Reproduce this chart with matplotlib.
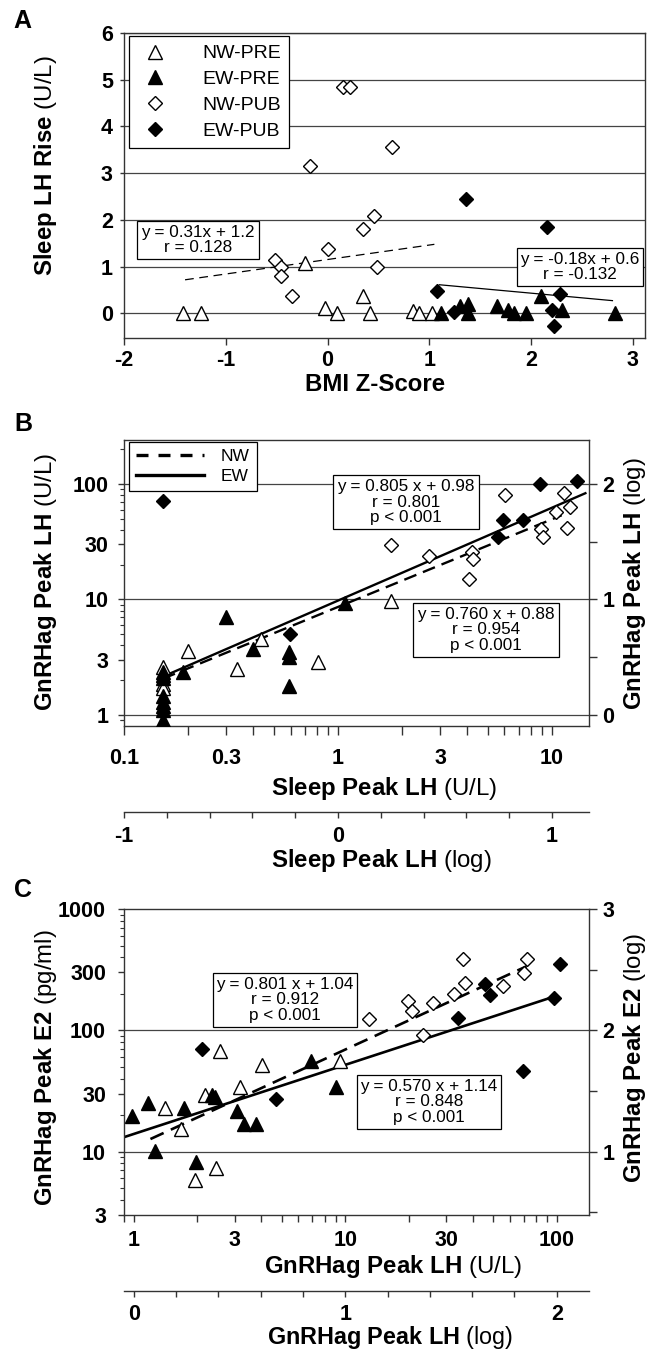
import numpy as np
import matplotlib
matplotlib.use('Agg')
import matplotlib.pyplot as plt
from matplotlib.lines import Line2D
from matplotlib.ticker import NullFormatter

# ---------------- data ----------------
# Panel A: BMI Z-score vs Sleep LH rise (U/L)
a_nw_pre_x = [-1.42, -1.24, -0.22, -0.02, 0.09, 0.35, 0.42, 0.84, 0.90, 1.03]
a_nw_pre_y = [0.0, 0.0, 1.07, 0.12, 0.0, 0.36, 0.0, 0.05, 0.0, 0.0]
a_ew_pre_x = [1.12, 1.30, 1.38, 1.38, 1.67, 1.77, 1.83, 1.95, 2.10, 2.30, 2.83]
a_ew_pre_y = [0.0, 0.15, 0.20, 0.0, 0.16, 0.07, 0.0, 0.0, 0.36, 0.07, 0.0]
a_nw_pub_x = [0.15, 0.22, -0.17, 0.63, 0.46, 0.35, 0.00, -0.52, -0.46, -0.46, -0.35, 0.49]
a_nw_pub_y = [4.84, 4.84, 3.16, 3.56, 2.09, 1.80, 1.37, 1.14, 1.00, 0.80, 0.36, 1.00]
a_ew_pub_x = [1.36, 2.16, 1.08, 2.28, 2.21, 2.23, 1.24]
a_ew_pub_y = [2.44, 1.84, 0.48, 0.41, 0.07, -0.27, 0.02]
a_fit_nw = (0.31, 1.15, -1.40, 1.05)     # slope, intercept, x start, x end
a_fit_ew = (-0.20, 0.83, 1.10, 2.80)
a_xticks = [-2, -1, 0, 1, 2, 3]
a_yticks = [0, 1, 2, 3, 4, 5, 6]
a_box_nw = "y = 0.31x + 1.2\nr = 0.128"
a_box_ew = "y = -0.18x + 0.6\nr = -0.132"
legend_a = ["NW-PRE", "EW-PRE", "NW-PUB", "EW-PUB"]

# Panel B: Sleep peak LH vs GnRHag peak LH (U/L)
b_nw_pre_x = [0.152, 0.152, 0.152, 0.20, 0.337, 0.436, 0.81, 1.77]
b_nw_pre_y = [2.58, 1.85, 1.70, 3.55, 2.48, 4.5, 2.85, 9.6]
b_ew_pre_x = [0.152, 0.152, 0.152, 0.152, 0.152, 0.152, 0.152, 0.152, 0.189, 0.30, 0.40, 0.59, 0.59, 0.59, 1.08]
b_ew_pre_y = [2.35, 2.20, 2.10, 1.45, 1.30, 1.20, 1.10, 0.91, 2.34, 7.0, 3.7, 3.47, 3.15, 1.77, 9.25]
b_nw_pub_x = [1.77, 2.66, 4.23, 4.27, 4.10, 6.03, 8.9, 9.1, 10.5, 11.4, 12.1, 11.7]
b_nw_pub_y = [29.8, 24.0, 26.0, 22.2, 14.9, 80.0, 40.8, 35.0, 57.5, 84.0, 63.6, 41.8]
b_ew_pub_x = [0.152, 0.597, 5.6, 5.9, 7.3, 8.8, 13.1]
b_ew_pub_y = [71.0, 5.0, 35.0, 49.0, 49.0, 100.0, 107.0]
b_fit_nw = (0.760, 0.935, 0.152, 11.1)   # log-log slope, intercept, x start, x end
b_fit_ew = (0.805, 0.990, 0.152, 14.5)
b_box_ew = "y = 0.805 x + 0.98\nr = 0.801\np < 0.001"
b_box_nw = "y = 0.760 x + 0.88\nr = 0.954\np < 0.001"
b_xticks = [0.1, 0.3, 1, 3, 10]
b_xtick_labels = ["0.1", "0.3", "1", "3", "10"]
b_yticks = [1, 3, 10, 30, 100]
b_ytick_labels = ["1", "3", "10", "30", "100"]
b_right_ticks = [0, 1, 2]
b_grid = [1, 10, 100]
legend_b = ["NW", "EW"]

# Panel C: GnRHag peak LH vs GnRHag peak E2
c_nw_pre_x = [1.41, 1.67, 1.95, 2.17, 2.45, 2.56, 3.18, 4.03, 9.45]
c_nw_pre_y = [22.9, 15.3, 5.8, 29.4, 7.3, 67.0, 34.4, 52.0, 56.0]
c_ew_pre_x = [0.98, 1.17, 1.26, 1.72, 1.97, 2.34, 2.42, 3.07, 3.33, 3.79, 6.9, 9.05]
c_ew_pre_y = [19.5, 25.0, 10.2, 22.9, 8.26, 29.4, 28.2, 21.8, 16.9, 16.9, 56.0, 34.4]
c_nw_pub_x = [13.0, 19.7, 20.6, 23.2, 26.0, 32.7, 36.2, 36.8, 55.9, 70.0, 72.6]
c_nw_pub_y = [124, 174, 144, 91, 168, 201, 384, 246, 234, 295, 384]
c_ew_pub_x = [2.1, 4.69, 34.3, 46.0, 48.3, 69.6, 97.0, 103.6]
c_ew_pub_y = [70, 27.1, 127, 239, 197, 45.8, 185, 355]
c_fit_nw = (0.801, 1.040, 1.2, 72.0)
c_fit_ew = (0.570, 1.145, 0.90, 97.0)
c_box_nw = "y = 0.801 x + 1.04\nr = 0.912\np < 0.001"
c_box_ew = "y = 0.570 x + 1.14\nr = 0.848\np < 0.001"
c_xticks = [1, 3, 10, 30, 100]
c_xtick_labels = ["1", "3", "10", "30", "100"]
c_yticks = [3, 10, 30, 100, 300, 1000]
c_ytick_labels = ["3", "10", "30", "100", "300", "1000"]
c_right_ticks = [1, 2, 3]
c_grid = [10, 100]

# ---------------- style ----------------
FONT = 'Liberation Sans'
plt.rcParams['font.family'] = [FONT, 'DejaVu Sans']
plt.rcParams['mathtext.fontset'] = 'custom'
plt.rcParams['mathtext.rm'] = FONT
plt.rcParams['mathtext.bf'] = FONT + ':bold'
plt.rcParams['mathtext.it'] = FONT + ':italic'

W, H = 649, 1352
fig = plt.figure(figsize=(W / 100, H / 100), dpi=100)

TICK_FS = 15.5
LABEL_FS = 17.3
BOX_FS = 12.3
SPINE_C = '#333333'
GRID_C = '#444444'


def fx(x):
    return x / W


def fy(y):
    return 1 - y / H


def add_ax(left, top, right, bottom):
    return fig.add_axes([left / W, 1 - bottom / H, (right - left) / W, (bottom - top) / H])


def frame(ax):
    for s in ax.spines.values():
        s.set_color(SPINE_C)
        s.set_linewidth(1.0)


STYLES = {
    'NW-PRE': dict(marker='^', mfc='white', ms=10.3),
    'EW-PRE': dict(marker='^', mfc='black', ms=10.3),
    'NW-PUB': dict(marker='D', mfc='white', ms=7.3),
    'EW-PUB': dict(marker='D', mfc='black', ms=7.3),
}


def scatter(ax, x, y, kind):
    ax.plot(x, y, ls='none', mec='black', mew=1.0, zorder=3, **STYLES[kind])


def fit_lin(ax, fit, **kw):
    m, b, x0, x1 = fit
    xs = np.linspace(x0, x1, 50)
    ax.plot(xs, m * xs + b, color='black', zorder=2, **kw)


def fit_log(ax, fit, **kw):
    m, b, x0, x1 = fit
    xs = np.logspace(np.log10(x0), np.log10(x1), 60)
    ax.plot(xs, 10 ** (m * np.log10(xs) + b), color='black', zorder=2, solid_capstyle='butt', **kw)


def box(ax, cx, cy, s):
    ax.text(fx(cx), fy(cy), s, transform=fig.transFigure, ha='center', va='center',
            multialignment='center', fontsize=BOX_FS, linespacing=1.05, zorder=6,
            bbox=dict(boxstyle='square,pad=0.22', fc='white', ec='black', lw=0.9))


def log_minor(lo, hi):
    out = []
    for dec in range(-2, 4):
        for k in range(2, 10):
            v = k * 10.0 ** dec
            if lo * 0.999 <= v <= hi * 1.001:
                out.append(v)
    return out


def int_labels(ticks):
    return [str(int(round(t))) if np.isclose(t, round(t)) else '' for t in ticks]


def sec_axis(left, right, y, lim, ticks, pad):
    s = add_ax(left, y - 1, right, y)
    s.set_facecolor('none')
    for side in ['top', 'left', 'right']:
        s.spines[side].set_visible(False)
    s.spines['bottom'].set_color(SPINE_C)
    s.spines['bottom'].set_linewidth(1.0)
    s.set_yticks([])
    s.set_xlim(*lim)
    s.set_xticks(ticks, labels=int_labels(ticks), fontsize=TICK_FS, fontweight='bold')
    s.tick_params(axis='x', direction='out', length=4.5, width=1, pad=pad, color=SPINE_C)
    return s


# ================= Panel A =================
axA = add_ax(124, 33, 645, 338)
frame(axA)
axA.set_xlim(-2, 3.12)
axA.set_ylim(-0.53, 6)
for g in a_yticks:
    axA.axhline(g, color=GRID_C, lw=0.9, zorder=0.5)
fit_lin(axA, a_fit_nw, lw=0.9, linestyle=(0, (7, 4.5)))
fit_lin(axA, a_fit_ew, lw=0.9)
scatter(axA, a_nw_pre_x, a_nw_pre_y, 'NW-PRE')
scatter(axA, a_ew_pre_x, a_ew_pre_y, 'EW-PRE')
scatter(axA, a_nw_pub_x, a_nw_pub_y, 'NW-PUB')
scatter(axA, a_ew_pub_x, a_ew_pub_y, 'EW-PUB')
axA.set_xticks(a_xticks, labels=[str(t) for t in a_xticks], fontsize=TICK_FS, fontweight='bold')
axA.set_yticks(a_yticks, labels=[str(t) for t in a_yticks], fontsize=TICK_FS, fontweight='bold')
axA.tick_params(axis='x', direction='out', length=5, width=1, pad=4, color=SPINE_C)
axA.tick_params(axis='y', direction='out', length=3, width=1, pad=5, color=SPINE_C)
box(axA, 198, 240, a_box_nw)
box(axA, 580, 267, a_box_ew)
hA = [Line2D([0], [0], ls='none', mec='black', mew=1.0, **STYLES[k]) for k in legend_a]
legA = axA.legend(hA, legend_a, loc='upper left', bbox_to_anchor=(fx(129), fy(36)),
                  bbox_transform=fig.transFigure, borderaxespad=0, fontsize=14,
                  frameon=True, fancybox=False, edgecolor='black', framealpha=1,
                  borderpad=0.45, labelspacing=0.42, handlelength=1.8, handletextpad=1.5,
                  numpoints=1)
legA.get_frame().set_linewidth(0.9)
legA.set_zorder(7)
fig.text(fx(22), fy(21), 'A', fontsize=18, fontweight='bold', ha='center', va='center')
fig.text(fx(375), fy(385), 'BMI Z-Score', fontsize=LABEL_FS, fontweight='bold', ha='center', va='center')
fig.text(fx(46), fy(166), r'$\mathbf{Sleep\ LH\ Rise}$ (U/L)', fontsize=LABEL_FS, rotation=90,
         ha='center', va='center')

# ================= Panel B =================
axB = add_ax(124, 440, 589, 726)
frame(axB)
axB.set_xscale('log')
axB.set_yscale('log')
b_xlim = (0.1, 14.9)
b_ylim = (0.8, 241)
axB.set_xlim(*b_xlim)
axB.set_ylim(*b_ylim)
for g in b_grid:
    axB.axhline(g, color=GRID_C, lw=0.9, zorder=0.5)
fit_log(axB, b_fit_nw, lw=1.7, linestyle=(0, (5.5, 3)))
fit_log(axB, b_fit_ew, lw=1.7)
scatter(axB, b_nw_pre_x, b_nw_pre_y, 'NW-PRE')
scatter(axB, b_ew_pre_x, b_ew_pre_y, 'EW-PRE')
scatter(axB, b_nw_pub_x, b_nw_pub_y, 'NW-PUB')
scatter(axB, b_ew_pub_x, b_ew_pub_y, 'EW-PUB')
axB.set_xticks(b_xticks, labels=b_xtick_labels, fontsize=TICK_FS, fontweight='bold')
axB.set_xticks(log_minor(*b_xlim), minor=True)
axB.set_yticks(b_yticks, labels=b_ytick_labels, fontsize=TICK_FS, fontweight='bold')
axB.set_yticks(log_minor(0.85, 240) + [0.9], minor=True)
axB.xaxis.set_minor_formatter(NullFormatter())
axB.yaxis.set_minor_formatter(NullFormatter())
axB.tick_params(axis='x', which='both', direction='out', length=6.5, width=1, pad=9.4, color=SPINE_C)
axB.tick_params(axis='y', which='major', direction='out', length=4, width=1, pad=7, color=SPINE_C)
axB.tick_params(axis='y', which='minor', direction='out', length=3, width=0.8, color=SPINE_C)
axBr = axB.twinx()
axBr.set_ylim(np.log10(b_ylim[0]), np.log10(b_ylim[1]))
axBr.set_yticks(b_right_ticks, labels=[str(t) for t in b_right_ticks], fontsize=TICK_FS, fontweight='bold')
axBr.set_yticks([0.5, 1.5], minor=True)
axBr.tick_params(axis='y', which='both', direction='out', length=6, width=1, pad=3.6, color=SPINE_C)
for s in axBr.spines.values():
    s.set_visible(False)
box(axB, 406, 502, b_box_ew)
box(axB, 486, 630, b_box_nw)
hB = [Line2D([0], [0], color='black', lw=2.4, linestyle=(0, (3.6, 3))),
      Line2D([0], [0], color='black', lw=2.4)]
legB = axB.legend(hB, legend_b, loc='upper left', bbox_to_anchor=(fx(129), fy(442)),
                  bbox_transform=fig.transFigure, borderaxespad=0, fontsize=12.5,
                  frameon=True, fancybox=False, edgecolor='black', framealpha=1,
                  borderpad=0.4, labelspacing=0.25, handlelength=3.9, handletextpad=1.0)
legB.get_frame().set_linewidth(0.9)
legB.set_zorder(7)
b_sec = np.round(np.arange(-1, 1.01, 0.2), 1)
sec_axis(124, 589, 812, (-1, np.log10(b_xlim[1])), b_sec, 5.8)
fig.text(fx(23), fy(424), 'B', fontsize=18, fontweight='bold', ha='center', va='center')
fig.text(fx(384), fy(788), r'$\mathbf{Sleep\ Peak\ LH}$ (U/L)', fontsize=LABEL_FS, ha='center', va='center')
fig.text(fx(381), fy(861), r'$\mathbf{Sleep\ Peak\ LH}$ (log)', fontsize=LABEL_FS, ha='center', va='center')
fig.text(fx(46), fy(582), r'$\mathbf{GnRHag\ Peak\ LH}$ (U/L)', fontsize=LABEL_FS, rotation=90,
         ha='center', va='center')
fig.text(fx(635), fy(584), r'$\mathbf{GnRHag\ Peak\ LH}$ (log)', fontsize=LABEL_FS, rotation=90,
         ha='center', va='center')

# ================= Panel C =================
axC = add_ax(124, 909, 589, 1215)
frame(axC)
axC.set_xscale('log')
axC.set_yscale('log')
c_xlim = (0.90, 142)
c_ylim = (3, 1000)
axC.set_xlim(*c_xlim)
axC.set_ylim(*c_ylim)
for g in c_grid:
    axC.axhline(g, color=GRID_C, lw=0.9, zorder=0.5)
fit_log(axC, c_fit_nw, lw=1.9, linestyle=(0, (5.5, 3)))
fit_log(axC, c_fit_ew, lw=1.9)
scatter(axC, c_nw_pre_x, c_nw_pre_y, 'NW-PRE')
scatter(axC, c_ew_pre_x, c_ew_pre_y, 'EW-PRE')
scatter(axC, c_nw_pub_x, c_nw_pub_y, 'NW-PUB')
scatter(axC, c_ew_pub_x, c_ew_pub_y, 'EW-PUB')
axC.set_xticks(c_xticks, labels=c_xtick_labels, fontsize=TICK_FS, fontweight='bold')
axC.set_xticks(log_minor(*c_xlim), minor=True)
axC.set_yticks(c_yticks, labels=c_ytick_labels, fontsize=TICK_FS, fontweight='bold')
axC.set_yticks(log_minor(*c_ylim), minor=True)
axC.xaxis.set_minor_formatter(NullFormatter())
axC.yaxis.set_minor_formatter(NullFormatter())
axC.tick_params(axis='x', which='both', direction='out', length=5, width=1, pad=5.8, color=SPINE_C)
axC.tick_params(axis='y', which='major', direction='out', length=4, width=1, pad=9, color=SPINE_C)
axC.tick_params(axis='y', which='minor', direction='out', length=3, width=0.8, color=SPINE_C)
axCr = axC.twinx()
axCr.set_ylim(np.log10(c_ylim[0]), np.log10(c_ylim[1]))
axCr.set_yticks(c_right_ticks, labels=[str(t) for t in c_right_ticks], fontsize=TICK_FS, fontweight='bold')
axCr.set_yticks([0.5, 1.5, 2.5], minor=True)
axCr.tick_params(axis='y', which='both', direction='out', length=6, width=1, pad=3.6, color=SPINE_C)
for s in axCr.spines.values():
    s.set_visible(False)
box(axC, 285, 1000, c_box_nw)
box(axC, 429, 1102, c_box_ew)
c_sec = np.round(np.arange(0, 2.01, 0.2), 1)
sec_axis(124, 589, 1291, (np.log10(c_xlim[0]), np.log10(c_xlim[1])), c_sec, 4.5)
fig.text(fx(23), fy(890), 'C', fontsize=18, fontweight='bold', ha='center', va='center')
fig.text(fx(393), fy(1267), r'$\mathbf{GnRHag\ Peak\ LH}$ (U/L)', fontsize=LABEL_FS, ha='center', va='center')
fig.text(fx(390), fy(1351), r'$\mathbf{GnRHag\ Peak\ LH}$ (log)', fontsize=16.8, ha='center', va='bottom')
fig.text(fx(46), fy(1068), r'$\mathbf{GnRHag\ Peak\ E2}$ (pg/ml)', fontsize=LABEL_FS, rotation=90,
         ha='center', va='center')
fig.text(fx(635), fy(1058), r'$\mathbf{GnRHag\ Peak\ E2}$ (log)', fontsize=LABEL_FS, rotation=90,
         ha='center', va='center')

fig.savefig('out.png', dpi=100)
